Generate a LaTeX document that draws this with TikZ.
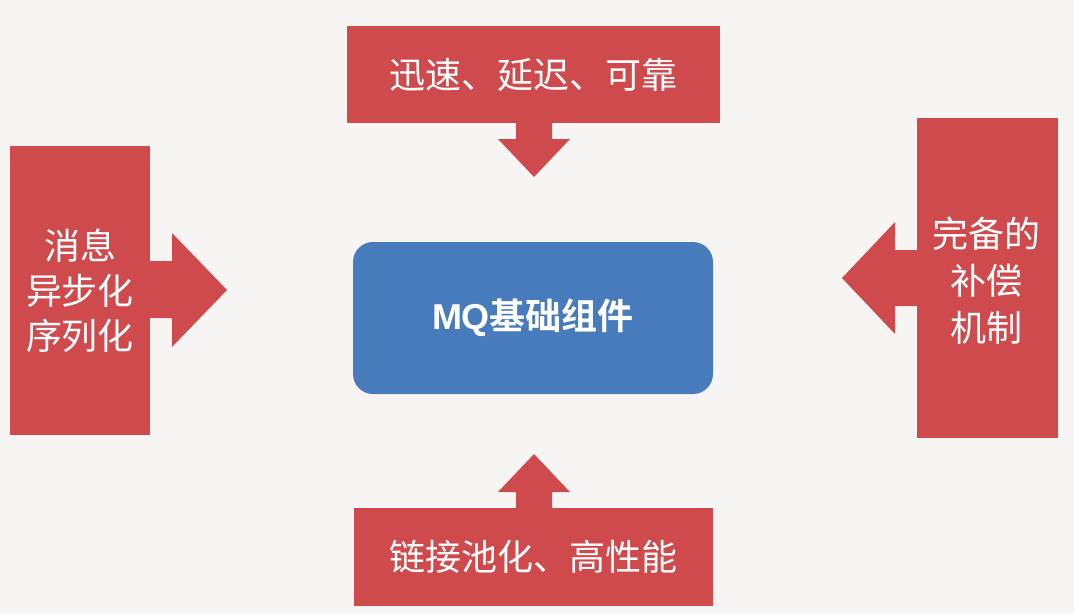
\documentclass[tikz,border=0pt]{standalone}
\usepackage{fontspec}
\setmainfont{Noto Sans CJK SC}[BoldFont=* Bold]
\newfontfamily\latinb{Liberation Sans}[BoldFont=* Bold]
\definecolor{bgc}{RGB}{247,245,244}
\definecolor{redc}{RGB}{207,74,77}
\definecolor{bluec}{RGB}{72,123,187}
\tikzset{
  callout/.style={rectangle, fill=redc, inner sep=0pt, text=white, align=center, font=\fontsize{36}{45}\selectfont},
  arrowshape/.style={fill=redc},
  core/.style={rectangle, rounded corners=20pt, fill=bluec, inner sep=0pt, text=white, font=\fontsize{36}{42}\selectfont\bfseries}
}
\begin{document}
\begin{tikzpicture}[x=1pt,y=-1pt]
\fill[bgc] (0,0) rectangle (1074,614);
\useasboundingbox (0,0) rectangle (1074,614);
% center
\node[core, minimum width=360pt, minimum height=152pt] (mq) at (533,318) {{\latinb\bfseries MQ}基础组件};
% top
\node[callout, minimum width=373pt, minimum height=97pt] (top) at (533.5,74.5) {迅速、延迟、可靠};
\fill[arrowshape] (516,120) -- (552,120) -- (552,139) -- (570,139) -- (534,177) -- (498,139) -- (516,139) -- cycle;
% left
\node[callout, minimum width=140pt, minimum height=289pt] (left) at (80,290.5) {消息\\异步化\\序列化};
\fill[arrowshape] (148,261) -- (172,261) -- (172,233) -- (227,290) -- (172,347) -- (172,318) -- (148,318) -- cycle;
% right
\node[callout, minimum width=141pt, minimum height=320pt, font=\fontsize{36}{48}\selectfont] (right) at (987.5,278) {};
\node[callout, fill=none, font=\fontsize{36}{47}\selectfont] (righttext) at (986,281) {完备的\\补偿\\机制};
\fill[arrowshape] (919,250) -- (895,250) -- (895,222) -- (842,278) -- (895,334) -- (895,306) -- (919,306) -- cycle;
% bottom
\node[callout, minimum width=359pt, minimum height=98pt] (bottom) at (533.5,557) {链接池化、高性能};
\fill[arrowshape] (516,510) -- (516,492) -- (498,492) -- (534,454) -- (570,492) -- (552,492) -- (552,510) -- cycle;
\end{tikzpicture}
\end{document}
